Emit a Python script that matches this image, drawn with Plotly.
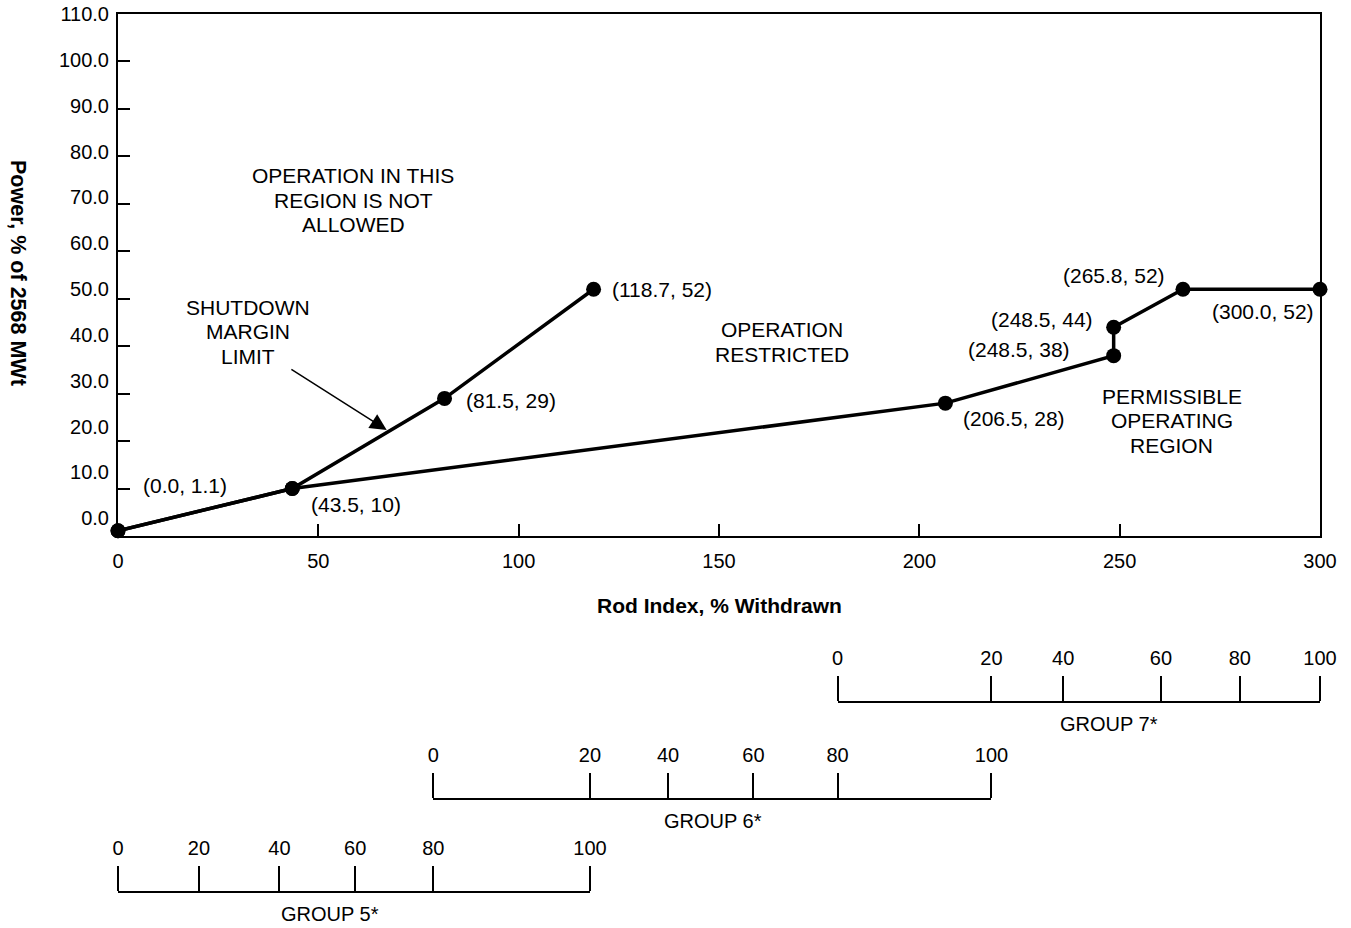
import plotly.graph_objects as go

# ---------------- data ----------------
limit_x = [0.0, 43.5, 81.5, 118.7]          # shutdown margin limit
limit_y = [1.1, 10, 29, 52]
oper_x = [0.0, 43.5, 206.5, 248.5, 248.5, 265.8, 300.0]   # permissible operating boundary
oper_y = [1.1, 10, 28, 38, 44, 52, 52]

x_ticks = [0, 50, 100, 150, 200, 250, 300]
y_ticks = [0, 10, 20, 30, 40, 50, 60, 70, 80, 90, 100, 110]

group_pct = [0, 20, 40, 60, 80, 100]
group5_rod = [0.0, 20.2, 40.3, 59.2, 78.7, 117.8]
group6_rod = [78.7, 117.8, 137.3, 158.6, 179.6, 218.0]
group7_rod = [179.6, 218.0, 235.9, 260.3, 280.0, 300.0]
group_names = ["GROUP 7*", "GROUP 6*", "GROUP 5*"]

region_texts = [
    ["OPERATION IN THIS", "REGION IS NOT", "ALLOWED"],
    ["SHUTDOWN", "MARGIN", "LIMIT"],
    ["OPERATION", "RESTRICTED"],
    ["PERMISSIBLE", "OPERATING", "REGION"],
]

# ---------------- styles / placement ----------------
FONT = "Liberation Sans, Arial, Helvetica, sans-serif"
W, H = 1351, 928
ML, MR, MT, MB = 118, 31, 14, 14
PW, PH = W - ML - MR, H - MT - MB


def py2paper(py):
    return (H - MB - py) / PH


def px2paper(px):
    return (px - ML) / PW


main_dom = [py2paper(536), 1.0]

fig = go.Figure()
fig.add_trace(go.Scatter(x=limit_x, y=limit_y, mode="lines+markers",
                         line=dict(color="black", width=3.5),
                         marker=dict(color="black", size=15),
                         cliponaxis=False, showlegend=False, hoverinfo="skip"))
fig.add_trace(go.Scatter(x=oper_x, y=oper_y, mode="lines+markers",
                         line=dict(color="black", width=3.5),
                         marker=dict(color="black", size=15),
                         cliponaxis=False, showlegend=False, hoverinfo="skip"))
# invisible trace so the label axis (y2) is drawn
fig.add_trace(go.Scatter(x=[x_ticks[0], x_ticks[-1]], y=[None, None], yaxis="y2",
                         mode="markers", showlegend=False, hoverinfo="skip"))

annotations = []

# point labels
pts = []
for x, y in list(zip(limit_x, limit_y)) + list(zip(oper_x, oper_y)):
    if (x, y) not in pts:
        pts.append((x, y))
label_place = {
    (0.0, 1.1): ("left", 23, 45),
    (43.5, 10): ("left", 17, -16),
    (81.5, 29): ("left", 19, -2),
    (118.7, 52): ("left", 16, 0),
    (206.5, 28): ("left", 16, -15),
    (248.5, 38): ("right", -42, 6),
    (248.5, 44): ("right", -19, 8),
    (265.8, 52): ("right", -16, 14),
    (300.0, 52): ("right", -4, -22),
}
for (x, y) in pts:
    xa, xs, ys = label_place[(x, y)]
    annotations.append(dict(x=x, y=y, xref="x", yref="y", text=f"({x:.1f}, {y:g})",
                            showarrow=False, xanchor=xa, yanchor="middle",
                            xshift=xs, yshift=ys, font=dict(size=21, color="black", family=FONT)))

# region text blocks (center in data units)
region_centers = [(58.7, 70.8), (32.4, 43.0), (165.7, 40.9), (263.0, 24.3)]
LS = 24.5
for lines, (cx, cy) in zip(region_texts, region_centers):
    n = len(lines)
    for i, t in enumerate(lines):
        annotations.append(dict(x=cx, y=cy, xref="x", yref="y", text=t, showarrow=False,
                                xanchor="center", yanchor="middle",
                                yshift=((n - 1) / 2 - i) * LS,
                                font=dict(size=21, color="black", family=FONT)))

# arrow for shutdown margin limit
annotations.append(dict(x=67.06, y=22.34, ax=42.9, ay=35.3, xref="x", yref="y",
                        axref="x", ayref="y", text="", showarrow=True,
                        arrowhead=2, arrowsize=2.2, arrowwidth=1.5, arrowcolor="black",
                        standoff=0, startstandoff=0))

# axis titles
annotations.append(dict(x=0.5, y=py2paper(605.7), xref="paper", yref="paper",
                        text="<b>Rod Index, % Withdrawn</b>", showarrow=False,
                        xanchor="center", yanchor="middle",
                        font=dict(size=21, color="black", family=FONT)))
annotations.append(dict(x=px2paper(18), y=py2paper(273), xref="paper", yref="paper",
                        text="<b>Power, % of 2568 MWt</b>", showarrow=False, textangle=90,
                        xanchor="center", yanchor="middle",
                        font=dict(size=21.5, color="black", family=FONT)))

# group scales
groups = [group7_rod, group6_rod, group5_rod]
line_py = [702.3, 799.0, 891.7]
title_px = [1109, 713, 330]
axis_defs = {}
for k, (g, lp, name, tpx) in enumerate(zip(groups, line_py, group_names, title_px)):
    ax_name = f"xaxis{k + 2}"
    axis_defs[ax_name] = dict(
        domain=[g[0] / x_ticks[-1], g[-1] / x_ticks[-1]], range=[g[0], g[-1]],
        anchor="free", position=py2paper(lp), side="top", automargin=False,
        tickvals=g, ticktext=[str(p) for p in group_pct],
        ticks="outside", ticklen=25, tickwidth=2, tickcolor="black",
        showline=True, linewidth=2, linecolor="black",
        showgrid=False, zeroline=False, ticklabelstandoff=3,
        tickfont=dict(size=20, color="black", family=FONT), fixedrange=True)
    fig.add_trace(go.Scatter(x=[g[0], g[-1]], y=[None, None], xaxis=f"x{k + 2}", yaxis="y",
                             mode="markers", showlegend=False, hoverinfo="skip"))
    annotations.append(dict(x=px2paper(tpx), y=py2paper(lp + 22), xref="paper", yref="paper",
                            text=name, showarrow=False, xanchor="center", yanchor="middle",
                            font=dict(size=20, color="black", family=FONT)))

fig.update_layout(
    width=W, height=H,
    margin=dict(l=ML, r=MR, t=MT, b=MB, pad=0, autoexpand=False),
    paper_bgcolor="white", plot_bgcolor="rgba(0,0,0,0)",
    font=dict(family=FONT, color="black", size=20),
    showlegend=False,
    xaxis=dict(domain=[0, 1], range=[x_ticks[0], x_ticks[-1]], tickvals=x_ticks,
               ticks="inside", ticklen=12, tickwidth=2, tickcolor="black",
               showline=True, linewidth=2, linecolor="black", mirror=True,
               showgrid=False, zeroline=False, anchor="y", automargin=False,
               ticklabelstandoff=6,
               tickfont=dict(size=20, color="black", family=FONT), fixedrange=True),
    yaxis=dict(domain=main_dom, range=[y_ticks[0], y_ticks[-1]], tickvals=y_ticks,
               ticks="inside", ticklen=12, tickwidth=2, tickcolor="black",
               showline=True, linewidth=2, linecolor="black", mirror=True,
               showgrid=False, zeroline=False, showticklabels=False, anchor="x",
               automargin=False, fixedrange=True),
    yaxis2=dict(overlaying="y", anchor="x", side="left", automargin=False,
                range=[-3.86, y_ticks[-1]], tickvals=y_ticks, tickformat=".1f",
                ticks="", showline=False, showgrid=False, zeroline=False,
                ticklabelstandoff=8,
                tickfont=dict(size=20, color="black", family=FONT), fixedrange=True),
    annotations=annotations,
    **axis_defs,
)

fig.write_html("out.html", config={"displayModeBar": False},
               post_script="document.body.style.margin='0';document.body.style.overflow='hidden';")
